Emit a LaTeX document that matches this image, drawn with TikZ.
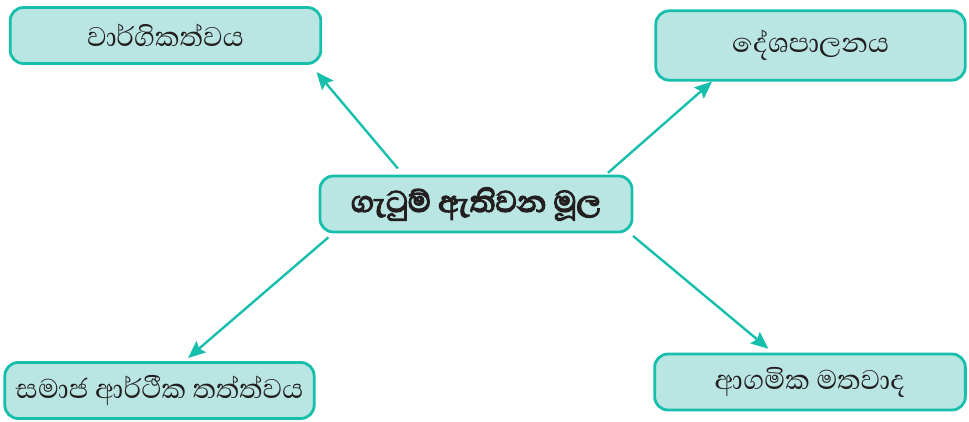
\documentclass[tikz,border=0pt]{standalone}
\usepackage{fontspec}
\usetikzlibrary{calc,arrows.meta}
\newfontfamily\sinhala[Script=Sinhala]{Abhaya Libre}
\newfontfamily\sinhalabold[Script=Sinhala,FakeBold=4]{Abhaya Libre}
\definecolor{tealline}{RGB}{22,190,172}
\definecolor{tealfill}{RGB}{185,229,226}
\definecolor{inkgray}{RGB}{35,31,32}
\tikzset{
  topicbox/.style={draw=tealline,fill=tealfill,line width=2.1pt,rounded corners=10pt,
    text=inkgray,font=\sinhala\fontsize{26}{30}\selectfont},
  rootbox/.style={topicbox,font=\sinhalabold\fontsize{28.5}{32}\selectfont},
  link/.style={draw=tealline,line width=1.8pt,-{Stealth[length=13pt,width=11pt,inset=2pt]}}
}
\begin{document}
\begin{tikzpicture}[x=0.75pt,y=-0.75pt]
\useasboundingbox (0,0) rectangle (969,421);
% boxes
\node[rootbox,minimum width=234pt,minimum height=42pt] (root) at (476,204) {ගැටුම් ඇතිවන මූල};
\node[topicbox,minimum width=233pt,minimum height=42pt] (eth) at (165.5,35.5) {වාර්ගිකත්වය};
\node[topicbox,minimum width=232pt,minimum height=52pt] (pol) at (810.5,45.5) {දේශපාලනය};
\node[topicbox,minimum width=232pt,minimum height=42pt] (soc) at (159.5,390.5) {සමාජ ආර්ථීක තත්ත්වය};
\node[topicbox,minimum width=233pt,minimum height=42pt] (rel) at (810,382) {ආගමික මතවාද};
% arrows
\draw[link,shorten <=6pt,shorten >=7pt] ($(root.north)+(-73,0)$) -- ($(eth.south)+(145,0)$);
\draw[link,shorten <=2pt] ($(root.north)+(130,0)$) -- ($(pol.south)+(-98.5,0)$);
\draw[link,shorten <=4.5pt,shorten >=3.5pt] ($(root.south)+(-143,0)$) -- ($(soc.north)+(25,0)$);
\draw[link,shorten <=3pt,shorten >=4.5pt] ($(root.south)+(154,0)$) -- ($(rel.north)+(-37,0)$);
\end{tikzpicture}
\end{document}
